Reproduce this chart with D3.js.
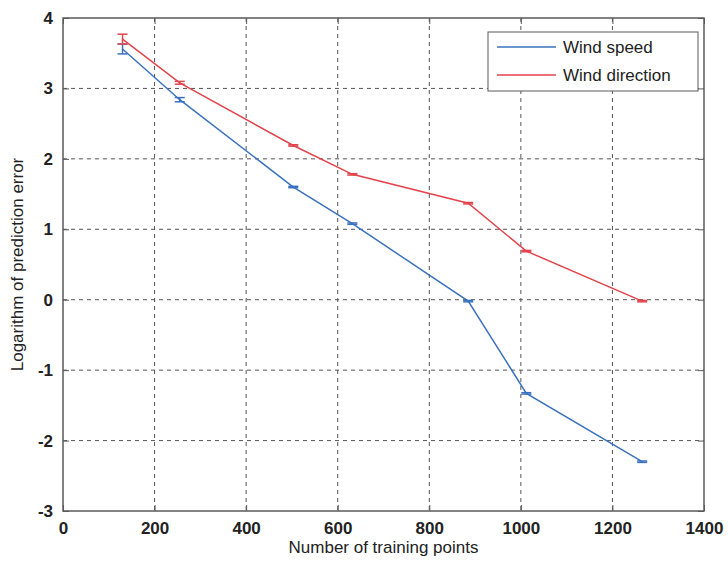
<!DOCTYPE html>
<html>
<head>
<meta charset="utf-8">
<script src="https://cdn.jsdelivr.net/npm/d3@7/dist/d3.min.js"></script>
<style>
  html, body { margin: 0; padding: 0; background: #ffffff; }
  svg { display: block; }
  text { font-family: "Liberation Sans", Arial, sans-serif; }
</style>
</head>
<body>
<svg id="chart" width="728" height="562"></svg>
<script>
// Training set sizes
const trainingPoints = [130, 255, 503, 632, 885, 1012, 1265];
// Log prediction error and error-bar half widths
const windSpeed      = [3.56, 2.84, 1.60, 1.08, -0.02, -1.33, -2.30];
const windSpeedErr   = [0.07, 0.03, 0.01, 0.01, 0.01, 0.01, 0.01];
const windDirection  = [3.70, 3.08, 2.19, 1.78, 1.37, 0.69, -0.02];
const windDirErr     = [0.07, 0.02, 0.01, 0.01, 0.01, 0.01, 0.01];
const xTicks = [0, 200, 400, 600, 800, 1000, 1200, 1400];
const yTicks = [-3, -2, -1, 0, 1, 2, 3, 4];
const seriesNames = ["Wind speed", "Wind direction"];
const seriesColors = ["#3b72c0", "#e2444c"];

const svg = d3.select("#chart");
const plotLeft = 63, plotRight = 704, plotTop = 18, plotBottom = 511;

const x = d3.scaleLinear().domain([0, 1400]).range([plotLeft, plotRight]);
const y = d3.scaleLinear().domain([-3, 4]).range([plotBottom, plotTop]);

const gridColor = "#555";
const frameColor = "#5a5a5a";
const plainNumber = d => String(d);

// dashed grid
svg.append("g").selectAll("line").data(xTicks.slice(1, -1)).join("line")
  .attr("x1", d => x(d)).attr("x2", d => x(d))
  .attr("y1", plotTop).attr("y2", plotBottom)
  .attr("stroke", gridColor).attr("stroke-width", 1)
  .attr("stroke-dasharray", "4,4");
svg.append("g").selectAll("line").data(yTicks.slice(1, -1)).join("line")
  .attr("x1", plotLeft).attr("x2", plotRight)
  .attr("y1", d => y(d)).attr("y2", d => y(d))
  .attr("stroke", gridColor).attr("stroke-width", 1)
  .attr("stroke-dasharray", "4,4");

// axes with inward ticks
const tickLen = 6;
const xAxisB = d3.axisBottom(x).tickValues(xTicks).tickSize(-tickLen).tickPadding(11).tickFormat(plainNumber);
const xAxisT = d3.axisTop(x).tickValues(xTicks).tickSize(-tickLen).tickFormat("");
const yAxisL = d3.axisLeft(y).tickValues(yTicks).tickSize(-tickLen).tickPadding(10).tickFormat(plainNumber);
const yAxisR = d3.axisRight(y).tickValues(yTicks).tickSize(-tickLen).tickFormat("");

function styleAxis(g) {
  g.select(".domain").remove();
  g.selectAll(".tick line").attr("stroke", frameColor).attr("stroke-width", 1);
  g.selectAll(".tick text")
    .attr("fill", "#222")
    .style("font-size", "17px")
    .style("font-weight", "bold")
    .style("font-family", "'Liberation Sans', Arial, sans-serif");
}
svg.append("g").attr("transform", `translate(0,${plotBottom})`).call(xAxisB).call(styleAxis);
svg.append("g").attr("transform", `translate(0,${plotTop})`).call(xAxisT).call(styleAxis);
svg.append("g").attr("transform", `translate(${plotLeft},0)`).call(yAxisL).call(styleAxis);
svg.append("g").attr("transform", `translate(${plotRight},0)`).call(yAxisR).call(styleAxis);

// frame
svg.append("rect")
  .attr("x", plotLeft).attr("y", plotTop)
  .attr("width", plotRight - plotLeft).attr("height", plotBottom - plotTop)
  .attr("fill", "none").attr("stroke", frameColor).attr("stroke-width", 1.5);

// series
const series = [
  { name: seriesNames[0], vals: windSpeed, err: windSpeedErr, color: seriesColors[0] },
  { name: seriesNames[1], vals: windDirection, err: windDirErr, color: seriesColors[1] }
];
const line = d3.line().x(d => x(d[0])).y(d => y(d[1]));
const capHalf = 5;

series.forEach(s => {
  const pts = trainingPoints.map((t, i) => [t, s.vals[i], s.err[i]]);
  svg.append("path")
    .datum(pts)
    .attr("d", line)
    .attr("fill", "none")
    .attr("stroke", s.color)
    .attr("stroke-width", 1.5);
  const eb = svg.append("g").attr("stroke", s.color).attr("stroke-width", 1.5);
  pts.forEach(p => {
    const cx = x(p[0]), y1 = y(p[1] + p[2]), y2 = y(p[1] - p[2]);
    eb.append("line").attr("x1", cx).attr("x2", cx).attr("y1", y1).attr("y2", y2);
    eb.append("line").attr("x1", cx - capHalf).attr("x2", cx + capHalf).attr("y1", y1).attr("y2", y1);
    eb.append("line").attr("x1", cx - capHalf).attr("x2", cx + capHalf).attr("y1", y2).attr("y2", y2);
  });
});

// legend
const lg = svg.append("g").attr("transform", "translate(488,32)");
lg.append("rect").attr("width", 210).attr("height", 59)
  .attr("fill", "#fff").attr("stroke", frameColor).attr("stroke-width", 1);
series.forEach((s, i) => {
  const ly = 15 + i * 28;
  lg.append("line").attr("x1", 9).attr("x2", 68).attr("y1", ly).attr("y2", ly)
    .attr("stroke", s.color).attr("stroke-width", 1.5);
  lg.append("text").attr("x", 75).attr("y", ly + 6)
    .attr("fill", "#222").style("font-size", "17px")
    .text(s.name);
});

// axis titles
svg.append("text")
  .attr("x", (plotLeft + plotRight) / 2).attr("y", 553)
  .attr("text-anchor", "middle")
  .attr("fill", "#222").style("font-size", "17px")
  .text("Number of training points");
svg.append("text")
  .attr("transform", `translate(23,${(plotTop + plotBottom) / 2}) rotate(-90)`)
  .attr("text-anchor", "middle")
  .attr("fill", "#222").style("font-size", "17px")
  .text("Logarithm of prediction error");
</script>
</body>
</html>
